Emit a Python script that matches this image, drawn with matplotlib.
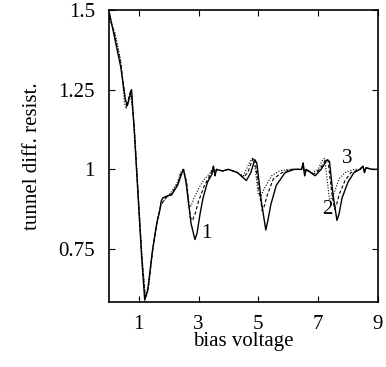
import numpy as np
import matplotlib.pyplot as plt

plt.rcParams['font.family'] = ['Liberation Serif', 'DejaVu Serif']

# curve 1 (solid)
x1 = [0.02, 0.2, 0.4, 0.55, 0.62, 0.7, 0.76, 0.85, 1.0, 1.1, 1.2, 1.3, 1.45, 1.6, 1.7,
      1.75, 1.8, 1.9, 2.1, 2.3, 2.45, 2.5, 2.6, 2.75, 2.88, 2.95, 3.05, 3.15, 3.3, 3.45, 3.5,
      3.55, 3.6, 3.8, 4.0, 4.3, 4.6, 4.75, 4.88, 4.95, 5.1, 5.25, 5.32, 5.42, 5.6, 5.9, 6.2,
      6.45, 6.5, 6.55, 6.6, 6.9, 7.1, 7.3, 7.38, 7.5, 7.63, 7.7, 7.8, 8.0, 8.2, 8.4, 8.5,
      8.55, 8.6, 8.8, 9.0]
y1 = [1.49, 1.41, 1.32, 1.22, 1.20, 1.23, 1.25, 1.12, 0.88, 0.72, 0.59, 0.62, 0.74, 0.83, 0.87,
      0.90, 0.91, 0.915, 0.92, 0.95, 0.99, 1.00, 0.95, 0.83, 0.78, 0.80, 0.86, 0.91, 0.96, 0.985, 1.01,
      0.98, 1.0, 0.995, 1.0, 0.99, 0.965, 0.99, 1.03, 1.02, 0.90, 0.81, 0.84, 0.89, 0.95, 0.99, 1.0,
      1.0, 1.02, 0.98, 1.0, 0.98, 1.0, 1.03, 1.025, 0.92, 0.84, 0.86, 0.91, 0.96, 0.99, 1.0, 1.01,
      0.99, 1.005, 1.0, 1.0]

# curve 2 (dashed)
x2 = [0.02, 0.2, 0.4, 0.55, 0.6, 0.68, 0.74, 0.85, 1.0, 1.1, 1.22, 1.32, 1.47, 1.62, 1.75,
      1.9, 2.1, 2.3, 2.42, 2.5, 2.6, 2.72, 2.8, 2.9, 3.0, 3.2, 3.4, 3.5, 3.55, 3.6, 3.8, 4.0,
      4.3, 4.5, 4.65, 4.8, 4.88, 5.0, 5.13, 5.2, 5.3, 5.5, 5.8, 6.1, 6.45, 6.5, 6.55, 6.6, 6.85,
      7.05, 7.25, 7.33, 7.45, 7.55, 7.62, 7.7, 7.9, 8.1, 8.4, 8.5, 8.55, 8.6, 8.8, 9.0]
y2 = [1.48, 1.42, 1.33, 1.22, 1.195, 1.23, 1.25, 1.13, 0.89, 0.73, 0.595, 0.63, 0.75, 0.84, 0.89,
      0.91, 0.925, 0.955, 0.99, 1.0, 0.96, 0.85, 0.84, 0.865, 0.90, 0.95, 0.985, 1.01, 0.98, 1.0, 0.995, 1.0,
      0.99, 0.975, 0.99, 1.03, 1.035, 0.95, 0.87, 0.885, 0.92, 0.97, 0.99, 1.0, 1.0, 1.02, 0.98, 1.0, 0.985,
      1.0, 1.03, 1.03, 0.93, 0.875, 0.89, 0.92, 0.965, 0.99, 1.0, 1.01, 0.99, 1.005, 1.0, 1.0]

# curve 3 (dotted)
x3 = [0.02, 0.2, 0.4, 0.52, 0.58, 0.66, 0.72, 0.85, 1.0, 1.1, 1.22, 1.34, 1.5, 1.65, 1.75,
      1.9, 2.1, 2.3, 2.4, 2.48, 2.56, 2.66, 2.75, 2.85, 3.0, 3.2, 3.4, 3.5, 3.55, 3.6, 3.8, 4.0,
      4.3, 4.5, 4.7, 4.8, 4.9, 5.0, 5.08, 5.2, 5.45, 5.7, 6.0, 6.45, 6.5, 6.55, 6.6, 6.8, 7.0,
      7.15, 7.22, 7.3, 7.38, 7.45, 7.55, 7.7, 7.9, 8.2, 8.4, 8.5, 8.55, 8.6, 8.8, 9.0]
y3 = [1.47, 1.43, 1.34, 1.21, 1.19, 1.22, 1.24, 1.14, 0.9, 0.74, 0.6, 0.64, 0.77, 0.85, 0.89,
      0.91, 0.93, 0.96, 0.99, 1.0, 0.97, 0.89, 0.885, 0.91, 0.94, 0.97, 0.99, 1.01, 0.98, 1.0, 0.995, 1.0,
      0.99, 0.98, 1.02, 1.035, 1.0, 0.92, 0.915, 0.94, 0.98, 0.995, 1.0, 1.0, 1.02, 0.98, 1.0, 0.99, 1.0,
      1.03, 1.035, 0.97, 0.905, 0.91, 0.93, 0.97, 0.99, 1.0, 1.0, 1.01, 0.99, 1.005, 1.0, 1.0]

xticks = [1, 3, 5, 7, 9]
yticks = [0.75, 1.0, 1.25, 1.5]
ytick_labels = ['0.75', '1', '1.25', '1.5']

fig = plt.figure(figsize=(3.86, 3.67), dpi=100)
ax = fig.add_axes([0.282, 0.177, 0.697, 0.796])
ax.plot(x3, y3, color='black', lw=0.8, ls=(0, (1, 1.5)))
ax.plot(x2, y2, color='black', lw=0.8, ls=(0, (3, 2)))
ax.plot(x1, y1, color='black', lw=1.0)

ax.text(3.1, 0.80, '1', fontsize=15, va='center')
ax.text(7.12, 0.875, '2', fontsize=15, va='center')
ax.text(7.8, 1.035, '3', fontsize=15, va='center')

ax.set_xlim(0, 9)
ax.set_ylim(0.584, 1.5)
ax.set_xticks(xticks)
ax.set_yticks(yticks)
ax.set_yticklabels(ytick_labels)
ax.tick_params(direction='in', top=True, right=True, length=4, labelsize=15)
ax.tick_params(axis='x', pad=9)
ax.tick_params(axis='y', pad=10)
for s in ax.spines.values():
    s.set_linewidth(1.2)
ax.set_xlabel('bias voltage', fontsize=15, labelpad=-1)
ax.set_ylabel('tunnel diff. resist.', fontsize=15, labelpad=12)

fig.savefig('out.png', dpi=100)
